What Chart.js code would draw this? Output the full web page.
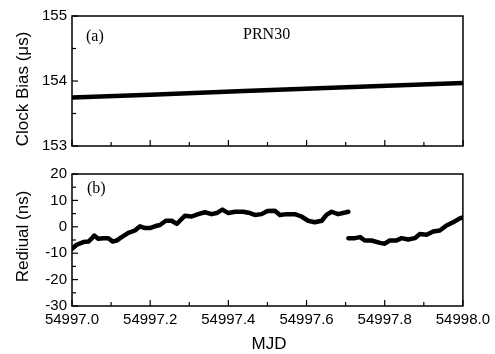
<!DOCTYPE html>
<html>
<head>
<meta charset="utf-8">
<script src="https://cdn.jsdelivr.net/npm/chart.js@4/dist/chart.umd.min.js"></script>
<style>
html,body{margin:0;padding:0;background:#fff;}
#wrap{position:relative;width:495px;height:354px;overflow:hidden;background:#fff;}
canvas{position:absolute;left:0;}
#c1{top:0;}
#c2{top:160px;}
</style>
</head>
<body>
<div id="wrap">
<canvas id="c1" width="495" height="160"></canvas>
<canvas id="c2" width="495" height="194"></canvas>
</div>
<script>
// ---- data ----
const clockMjd  = [54997.0, 54997.2, 54997.44, 54997.7, 54998.0];
const clockBias = [153.745, 153.79, 153.846, 153.905, 153.97];

const resMjdA = [54997.000,54997.012,54997.029,54997.042,54997.050,54997.057,54997.067,54997.080,54997.093,54997.104,
  54997.114,54997.127,54997.144,54997.161,54997.174,54997.187,54997.199,54997.212,54997.225,54997.240,
  54997.255,54997.268,54997.276,54997.289,54997.306,54997.323,54997.340,54997.357,54997.370,54997.385,
  54997.400,54997.417,54997.438,54997.455,54997.468,54997.485,54997.500,54997.519,54997.532,54997.549,
  54997.570,54997.587,54997.604,54997.621,54997.639,54997.651,54997.664,54997.681,54997.707];
const resValA = [-8.3,-6.8,-5.8,-5.6,-4.5,-3.3,-4.5,-4.3,-4.3,-5.6,
  -5.2,-3.9,-2.3,-1.4,0.2,-0.5,-0.5,0.2,0.7,2.3,
  2.3,1.1,2.3,4.2,3.9,4.8,5.5,4.8,5.2,6.5,
  5.2,5.7,5.7,5.2,4.5,4.8,6.0,6.1,4.5,4.8,
  4.8,3.9,2.3,1.7,2.3,4.5,5.7,4.8,5.7];
const resMjdB = [54997.707,54997.724,54997.737,54997.749,54997.766,54997.788,54997.800,54997.813,54997.830,54997.843,
  54997.860,54997.877,54997.890,54997.907,54997.924,54997.941,54997.958,54997.975,54997.992,54998.000];
const resValB = [-4.3,-4.3,-3.9,-5.2,-5.2,-6.1,-6.4,-5.2,-5.2,-4.3,
  -4.8,-4.3,-2.7,-3.0,-1.8,-1.4,0.5,1.7,3.2,3.6];

const xTickStep = 0.2;
const clockTicks = {min:153, max:155, step:1};
const resTicks = {min:-30, max:20, step:10};
const panelA = {tag:'(a)', title:'PRN30', yTitle:'Clock Bias (\u03bcs)'};
const panelB = {tag:'(b)', yTitle:'Rediual (ns)', xTitle:'MJD'};

function pts(xs, ys){ return xs.map((x,i)=>({x:x, y:ys[i]})); }

const SANS = '"Liberation Sans", Arial, sans-serif';
const SERIF = '"Liberation Serif", "Times New Roman", serif';

const framePlugin = {
  id:'frame',
  afterDatasetsDraw(chart, args, o){
    const ctx = chart.ctx, a = chart.chartArea;
    const xs = chart.scales.x, ys = chart.scales.y;
    ctx.save();
    ctx.strokeStyle = '#000';
    ctx.lineWidth = 1.5;
    ctx.strokeRect(a.left, a.top, a.right - a.left, a.bottom - a.top);
    ctx.lineWidth = 1.2;
    const drawTicks = (scale, horiz) => {
      const vals = scale.ticks.map(t=>t.value);
      const minors = [];
      for (let i=0;i<vals.length-1;i++) minors.push((vals[i]+vals[i+1])/2);
      const draw = (v, len) => {
        const p = scale.getPixelForValue(v);
        ctx.beginPath();
        if (horiz){ ctx.moveTo(p, a.bottom); ctx.lineTo(p, a.bottom - len); }
        else { ctx.moveTo(a.left, p); ctx.lineTo(a.left + len, p); }
        ctx.stroke();
      };
      vals.forEach(v=>draw(v,6));
      minors.forEach(v=>draw(v,4));
    };
    drawTicks(xs, true);
    drawTicks(ys, false);
    // texts
    ctx.fillStyle = '#000';
    ctx.font = '16px ' + SERIF;
    ctx.textAlign = 'left';
    ctx.textBaseline = 'alphabetic';
    if (o.tag) ctx.fillText(o.tag, o.tagX, o.tagY);
    if (o.title) ctx.fillText(o.title, o.titleX, o.titleY);
    ctx.font = '17px ' + SANS;
    ctx.textAlign = 'center';
    ctx.textBaseline = 'middle';
    if (o.yTitle){
      ctx.save();
      ctx.translate(o.yTitleX, o.yTitleY);
      ctx.rotate(-Math.PI/2);
      ctx.fillText(o.yTitle, 0, 0);
      ctx.restore();
    }
    if (o.xTitle) ctx.fillText(o.xTitle, o.xTitleX, o.xTitleY);
    ctx.restore();
  }
};

function makeChart(id, datasets, yt, showXLabels, xAxisH, padTop, textOpts){
  return new Chart(document.getElementById(id), {
    type:'scatter',
    data:{datasets: datasets},
    plugins:[framePlugin],
    options:{
      responsive:false, animation:false, devicePixelRatio:1,
      layout:{padding:{top:padTop, right:32, left:0, bottom:0}},
      plugins:{legend:{display:false}, tooltip:{enabled:false}, frame:textOpts},
      elements:{point:{radius:0, hoverRadius:0}},
      scales:{
        x:{type:'linear', min:54997, max:54998,
           grid:{display:false, drawTicks:false}, border:{display:false},
           ticks:{display:showXLabels, stepSize:xTickStep, padding:5, maxRotation:0, autoSkip:false,
                  color:'#000', font:{family:SANS, size:15},
                  callback:(v)=>Number(v).toFixed(1)},
           afterFit:(s)=>{ s.height = xAxisH; }},
        y:{type:'linear', min:yt.min, max:yt.max,
           grid:{display:false, drawTicks:false}, border:{display:false},
           ticks:{stepSize:yt.step, padding:5, color:'#000', font:{family:SANS, size:15},
                  callback:(v)=>String(v)},
           afterFit:(s)=>{ s.width = 72; }}
      }
    }
  });
}

makeChart('c1', [{
  data: pts(clockMjd, clockBias), showLine:true, borderColor:'#000', borderWidth:4.5,
  pointRadius:0, fill:false
}], clockTicks, false, 10, 16,
  {tag:panelA.tag, tagX:86, tagY:41, title:panelA.title, titleX:243, titleY:39,
   yTitle:panelA.yTitle, yTitleX:23, yTitleY:89});

makeChart('c2', [
  {data: pts(resMjdA, resValA), showLine:true, borderColor:'#000', borderWidth:4.5,
   borderJoinStyle:'round', borderCapStyle:'round', pointRadius:0, fill:false},
  {data: pts(resMjdB, resValB), showLine:true, borderColor:'#000', borderWidth:4.5,
   borderJoinStyle:'round', borderCapStyle:'round', pointRadius:0, fill:false}
], resTicks, true, 48, 13,
  {tag:panelB.tag, tagX:87, tagY:33, yTitle:panelB.yTitle, yTitleX:23, yTitleY:76.5,
   xTitle:panelB.xTitle, xTitleX:269, xTitleY:184});
</script>
</body>
</html>
